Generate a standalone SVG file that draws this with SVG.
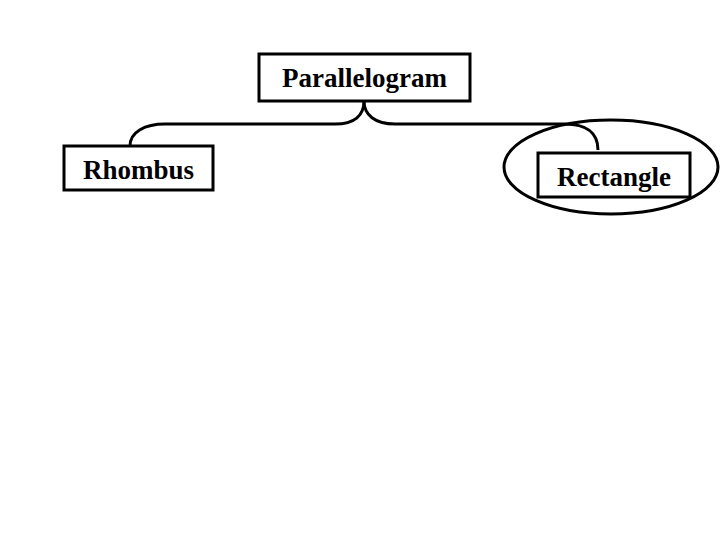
<svg xmlns="http://www.w3.org/2000/svg" width="720" height="540" viewBox="0 0 720 540">
<style>
.box{fill:#fff;stroke:#000;stroke-width:3}
.t{font-family:"Liberation Serif",serif;font-weight:bold;font-size:27px;text-anchor:middle;fill:#000}
.c{fill:none;stroke:#000;stroke-width:3}
</style>
<rect width="720" height="540" fill="#fff"/>
<g id="connectors">
<path class="c" d="M364,101 C364,115 355,124 335,124 L165,124 C145,124 130,132 130,146"/>
<path class="c" d="M364,101 C364,115 375,124 395,124 L565,124 C585,124 598,132 598,150"/>
</g>
<g id="parallelogram"><rect class="box" x="259" y="54" width="211" height="47"/><text class="t" x="364.5" y="87">Parallelogram</text></g>
<g id="rhombus"><rect class="box" x="64" y="146" width="149" height="44"/><text class="t" x="138.5" y="179">Rhombus</text></g>
<g id="rectangle"><ellipse class="c" cx="611" cy="167" rx="107" ry="47"/><rect class="box" x="538" y="153" width="152" height="44"/><text class="t" x="614" y="186">Rectangle</text></g>
</svg>
